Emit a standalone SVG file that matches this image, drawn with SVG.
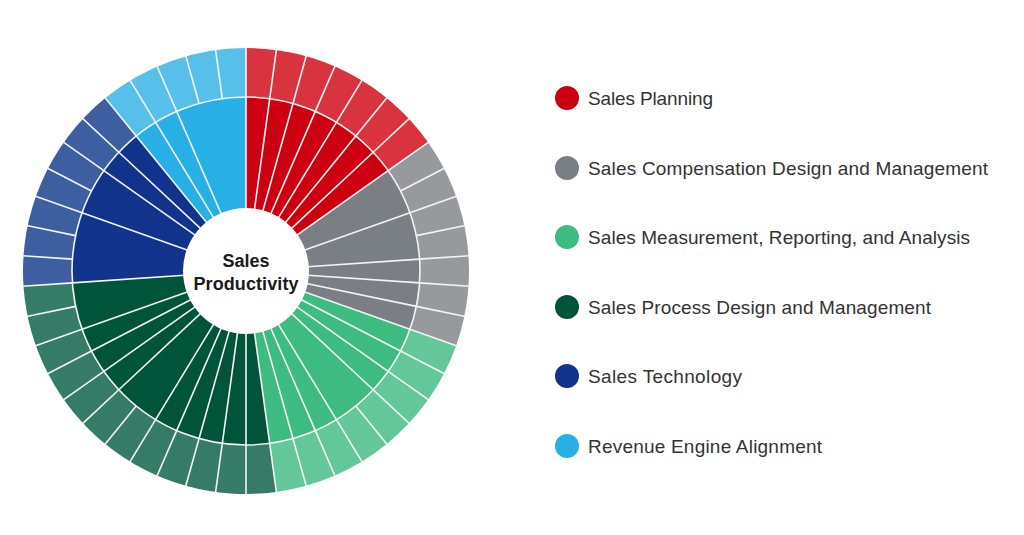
<svg xmlns="http://www.w3.org/2000/svg" xmlns:xlink="http://www.w3.org/1999/xlink" width="1024" height="535" viewBox="0 0 1024 535">
<style>
.sep{stroke:#f4f4f4;stroke-width:1.6;fill:none}
.lg{font-family:"Liberation Sans",Arial,sans-serif;font-size:19px;fill:#333333}
.ct{font-family:"Liberation Sans",Arial,sans-serif;font-size:18px;font-weight:bold;fill:#1a1a1a;text-anchor:middle}
</style>
<defs>
<line id="ol" x1="0" y1="-174" x2="0" y2="-224" class="sep"/>
<line id="il" x1="0" y1="-58" x2="0" y2="-174" class="sep"/>
</defs>
<rect width="1024" height="535" fill="#ffffff"/>
<g id="sunburst">
<g id="outer-ring">
<path d="M246 271 L246 48 A223 223 0 0 1 428.185 142.399 Z" fill="#D93340"/>
<path d="M246 271 L428.185 142.399 A223 223 0 0 1 456.124 345.678 Z" fill="#97999D"/>
<path d="M246 271 L456.124 345.678 A223 223 0 0 1 276.365 491.923 Z" fill="#63C79A"/>
<path d="M246 271 L276.365 491.923 A223 223 0 0 1 23.520 286.218 Z" fill="#357B65"/>
<path d="M246 271 L23.520 286.218 A223 223 0 0 1 105.268 98.016 Z" fill="#3D5EA1"/>
<path d="M246 271 L105.268 98.016 A223 223 0 0 1 246 48 Z" fill="#56C0EA"/>
</g>
<g id="inner-ring">
<path d="M246 271 L246 97 A174 174 0 0 1 388.153 170.657 Z" fill="#CC0010"/>
<path d="M246 271 L388.153 170.657 A174 174 0 0 1 409.953 329.269 Z" fill="#7A7E85"/>
<path d="M246 271 L409.953 329.269 A174 174 0 0 1 269.693 443.379 Z" fill="#3DBB81"/>
<path d="M246 271 L269.693 443.379 A174 174 0 0 1 72.406 282.874 Z" fill="#00543A"/>
<path d="M246 271 L72.406 282.874 A174 174 0 0 1 136.191 136.026 Z" fill="#11338B"/>
<path d="M246 271 L136.191 136.026 A174 174 0 0 1 246 97 Z" fill="#28AFE5"/>
</g>
<g id="separators" transform="translate(246 271)">
<circle cx="0" cy="0" r="174" class="sep"/>
<use xlink:href="#ol" transform="rotate(0)"/>
<use xlink:href="#ol" transform="rotate(7.8261)"/>
<use xlink:href="#ol" transform="rotate(15.6522)"/>
<use xlink:href="#ol" transform="rotate(23.4783)"/>
<use xlink:href="#ol" transform="rotate(31.3043)"/>
<use xlink:href="#ol" transform="rotate(39.1304)"/>
<use xlink:href="#ol" transform="rotate(46.9565)"/>
<use xlink:href="#ol" transform="rotate(54.7826)"/>
<use xlink:href="#ol" transform="rotate(62.6087)"/>
<use xlink:href="#ol" transform="rotate(70.4348)"/>
<use xlink:href="#ol" transform="rotate(78.2609)"/>
<use xlink:href="#ol" transform="rotate(86.0870)"/>
<use xlink:href="#ol" transform="rotate(93.9130)"/>
<use xlink:href="#ol" transform="rotate(101.7391)"/>
<use xlink:href="#ol" transform="rotate(109.5652)"/>
<use xlink:href="#ol" transform="rotate(117.3913)"/>
<use xlink:href="#ol" transform="rotate(125.2174)"/>
<use xlink:href="#ol" transform="rotate(133.0435)"/>
<use xlink:href="#ol" transform="rotate(140.8696)"/>
<use xlink:href="#ol" transform="rotate(148.6957)"/>
<use xlink:href="#ol" transform="rotate(156.5217)"/>
<use xlink:href="#ol" transform="rotate(164.3478)"/>
<use xlink:href="#ol" transform="rotate(172.1739)"/>
<use xlink:href="#ol" transform="rotate(180)"/>
<use xlink:href="#ol" transform="rotate(187.8261)"/>
<use xlink:href="#ol" transform="rotate(195.6522)"/>
<use xlink:href="#ol" transform="rotate(203.4783)"/>
<use xlink:href="#ol" transform="rotate(211.3043)"/>
<use xlink:href="#ol" transform="rotate(219.1304)"/>
<use xlink:href="#ol" transform="rotate(226.9565)"/>
<use xlink:href="#ol" transform="rotate(234.7826)"/>
<use xlink:href="#ol" transform="rotate(242.6087)"/>
<use xlink:href="#ol" transform="rotate(250.4348)"/>
<use xlink:href="#ol" transform="rotate(258.2609)"/>
<use xlink:href="#ol" transform="rotate(266.0870)"/>
<use xlink:href="#ol" transform="rotate(273.9130)"/>
<use xlink:href="#ol" transform="rotate(281.7391)"/>
<use xlink:href="#ol" transform="rotate(289.5652)"/>
<use xlink:href="#ol" transform="rotate(297.3913)"/>
<use xlink:href="#ol" transform="rotate(305.2174)"/>
<use xlink:href="#ol" transform="rotate(313.0435)"/>
<use xlink:href="#ol" transform="rotate(320.8696)"/>
<use xlink:href="#ol" transform="rotate(328.6957)"/>
<use xlink:href="#ol" transform="rotate(336.5217)"/>
<use xlink:href="#ol" transform="rotate(344.3478)"/>
<use xlink:href="#ol" transform="rotate(352.1739)"/>
<use xlink:href="#il" transform="rotate(0)"/>
<use xlink:href="#il" transform="rotate(7.8261)"/>
<use xlink:href="#il" transform="rotate(15.6522)"/>
<use xlink:href="#il" transform="rotate(23.4783)"/>
<use xlink:href="#il" transform="rotate(31.3043)"/>
<use xlink:href="#il" transform="rotate(39.1304)"/>
<use xlink:href="#il" transform="rotate(46.9565)"/>
<use xlink:href="#il" transform="rotate(54.7826)"/>
<use xlink:href="#il" transform="rotate(70.4348)"/>
<use xlink:href="#il" transform="rotate(86.0870)"/>
<use xlink:href="#il" transform="rotate(93.9130)"/>
<use xlink:href="#il" transform="rotate(101.7391)"/>
<use xlink:href="#il" transform="rotate(109.5652)"/>
<use xlink:href="#il" transform="rotate(117.3913)"/>
<use xlink:href="#il" transform="rotate(125.2174)"/>
<use xlink:href="#il" transform="rotate(133.0435)"/>
<use xlink:href="#il" transform="rotate(148.6957)"/>
<use xlink:href="#il" transform="rotate(156.5217)"/>
<use xlink:href="#il" transform="rotate(164.3478)"/>
<use xlink:href="#il" transform="rotate(172.1739)"/>
<use xlink:href="#il" transform="rotate(180)"/>
<use xlink:href="#il" transform="rotate(187.8261)"/>
<use xlink:href="#il" transform="rotate(195.6522)"/>
<use xlink:href="#il" transform="rotate(203.4783)"/>
<use xlink:href="#il" transform="rotate(211.3043)"/>
<use xlink:href="#il" transform="rotate(226.9565)"/>
<use xlink:href="#il" transform="rotate(234.7826)"/>
<use xlink:href="#il" transform="rotate(242.6087)"/>
<use xlink:href="#il" transform="rotate(250.4348)"/>
<use xlink:href="#il" transform="rotate(266.0870)"/>
<use xlink:href="#il" transform="rotate(289.5652)"/>
<use xlink:href="#il" transform="rotate(305.2174)"/>
<use xlink:href="#il" transform="rotate(313.0435)"/>
<use xlink:href="#il" transform="rotate(320.8696)"/>
<use xlink:href="#il" transform="rotate(328.6957)"/>
<use xlink:href="#il" transform="rotate(336.5217)"/>
</g>
<g id="center">
<circle cx="246" cy="271" r="63" fill="#ffffff"/>
<text class="ct" x="246" y="267">Sales</text>
<text class="ct" x="246" y="290" textLength="105" lengthAdjust="spacing">Productivity</text>
</g>
</g>
<g id="legend">
<g id="legend-sales-planning"><circle cx="567" cy="98" r="12" fill="#CC0010"/><text class="lg" x="588" y="105" textLength="125" lengthAdjust="spacing">Sales Planning</text></g>
<g id="legend-compensation"><circle cx="567" cy="168" r="12" fill="#7A7E85"/><text class="lg" x="588" y="175" textLength="400" lengthAdjust="spacing">Sales Compensation Design and Management</text></g>
<g id="legend-measurement"><circle cx="567" cy="237" r="12" fill="#3DBB81"/><text class="lg" x="588" y="244" textLength="382" lengthAdjust="spacing">Sales Measurement, Reporting, and Analysis</text></g>
<g id="legend-process"><circle cx="567" cy="307" r="12" fill="#00543A"/><text class="lg" x="588" y="314" textLength="343" lengthAdjust="spacing">Sales Process Design and Management</text></g>
<g id="legend-technology"><circle cx="567" cy="376" r="12" fill="#11338B"/><text class="lg" x="588" y="383" textLength="154" lengthAdjust="spacing">Sales Technology</text></g>
<g id="legend-revenue"><circle cx="567" cy="446" r="12" fill="#28AFE5"/><text class="lg" x="588" y="453" textLength="234" lengthAdjust="spacing">Revenue Engine Alignment</text></g>
</g>
</svg>
